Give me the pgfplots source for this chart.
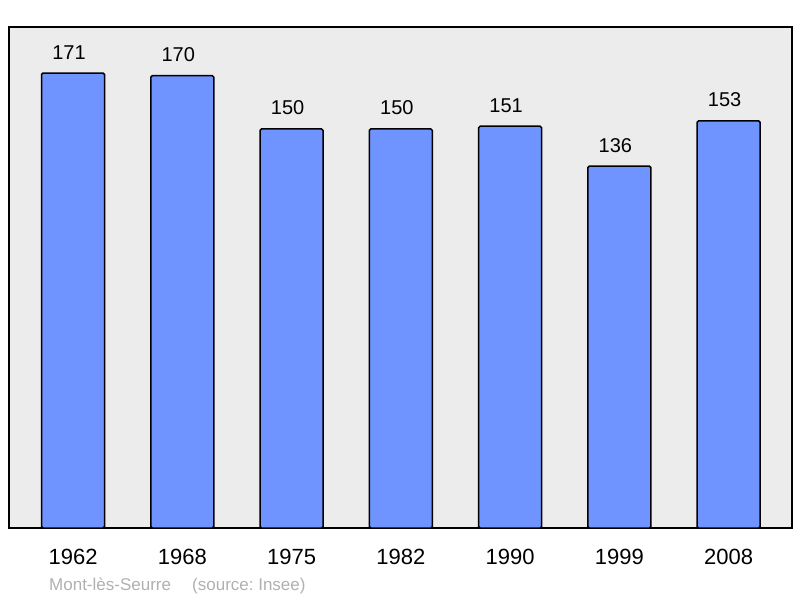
\documentclass[border=0pt]{standalone}
\usepackage{fontspec}
\setmainfont{Liberation Sans}
\usepackage{pgfplots}
\pgfplotsset{compat=1.18}
\definecolor{barblue}{HTML}{7094FF}
\definecolor{bggray}{HTML}{ECECEC}
\definecolor{footgray}{HTML}{B0B0B0}
\frenchspacing
\begin{document}
\begin{tikzpicture}
\path (0,0) rectangle (800pt,598pt);
\begin{axis}[
    at={(9pt,70pt)}, anchor=south west,
    scale only axis,
    width=783pt, height=501pt,
    xmin=-0.586, xmax=6.58,
    ymin=0, ymax=188.3,
    axis background/.style={fill=bggray},
    axis line style={line width=2pt},
    xtick={0,1,2,3,4,5,6},
    xticklabels={1962,1968,1975,1982,1990,1999,2008},
    ytick=\empty,
    major tick length=0pt,
    xticklabel style={anchor=base, inner sep=0pt, yshift=-36pt,
        font=\fontsize{22}{26}\selectfont},
    /pgf/number format/assume math mode=true,
    nodes near coords,
    every node near coord/.style={anchor=base, inner sep=0pt, yshift=14pt,
        xshift=-4pt, font=\fontsize{20}{24}\selectfont, black},
    clip=false,
]
\addplot[ybar, bar width=63pt, fill=barblue, draw=black, line width=1.5pt,
    rounded corners=1.5pt]
    coordinates {(0,171) (1,170) (2,150) (3,150) (4,151) (5,136) (6,153)};
\end{axis}
\node[anchor=base west, inner sep=0pt, text=footgray,
    font=\fontsize{17}{20}\selectfont] at (49pt,8pt) {Mont-lès-Seurre};
\node[anchor=base west, inner sep=0pt, text=footgray,
    font=\fontsize{17}{20}\selectfont] at (192pt,8pt) {(source: Insee)};
\end{tikzpicture}
\end{document}
